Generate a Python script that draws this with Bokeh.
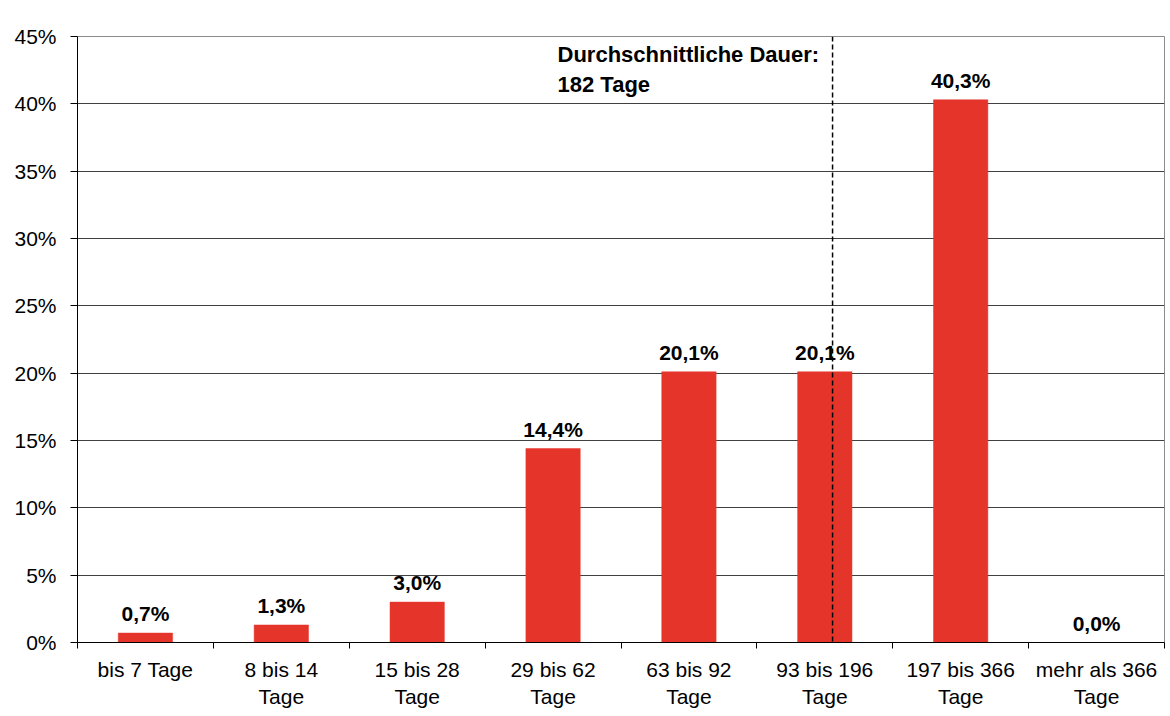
import numpy as np
from bokeh.plotting import figure
from bokeh.models import (ColumnDataSource, FixedTicker, LabelSet, Span, Label,
                          Range1d)
from bokeh.core.properties import value
from bokeh.embed import file_html
from bokeh.resources import INLINE

categories = ["bis 7 Tage", "8 bis 14\nTage", "15 bis 28\nTage", "29 bis 62\nTage",
              "63 bis 92\nTage", "93 bis 196\nTage", "197 bis 366\nTage",
              "mehr als 366\nTage"]
values = [0.7, 1.3, 3.0, 14.4, 20.1, 20.1, 40.3, 0.0]
value_labels = ["0,7%", "1,3%", "3,0%", "14,4%", "20,1%", "20,1%", "40,3%", "0,0%"]
y_ticks = [0, 5, 10, 15, 20, 25, 30, 35, 40, 45]
y_tick_labels = ["0%", "5%", "10%", "15%", "20%", "25%", "30%", "35%", "40%", "45%"]
avg_position = 5.557  # position of the mean duration (182 Tage) on the category axis
avg_text = "Durchschnittliche Dauer:\n182 Tage"

FONT = "Liberation Sans"
n = len(categories)
centers = list(np.arange(n) + 0.5)
bounds = list(np.arange(n + 1).astype(float))

src = ColumnDataSource(dict(x=centers, top=values, label=value_labels))

p = figure(width=1168, height=712, output_backend="svg", toolbar_location=None,
           x_range=Range1d(0, n), y_range=Range1d(0, 45),
           min_border_left=77, min_border_top=36, min_border_right=4,
           min_border_bottom=70)
p.background_fill_color = "white"
p.border_fill_color = "white"
p.outline_line_color = "#8c8c8c"
p.outline_line_width = 1

p.vbar(x="x", top="top", width=0.4, bottom=0, source=src,
       fill_color="#E5352A", line_color="#E5352A", line_width=0.5)

labels = LabelSet(x="x", y="top", text="label", source=src, text_align="center",
                  text_baseline="alphabetic", y_offset=12, text_font=value(FONT),
                  text_font_size="21px", text_font_style="bold", text_color="black")
p.add_layout(labels)

p.add_layout(Span(location=avg_position, dimension="height", line_color="black",
                  line_width=1.5, line_dash="5 3"))

p.add_layout(Label(x=3.533, y=44.6, text=avg_text, text_align="left",
                   text_baseline="top", text_font=FONT, text_font_size="22px",
                   text_font_style="bold", text_color="black", text_line_height=1.2))

# x axis
p.xaxis.ticker = FixedTicker(ticks=centers, minor_ticks=bounds)
p.xaxis.major_label_overrides = {c: lab for c, lab in zip(centers, categories)}
p.xaxis.major_tick_out = 0
p.xaxis.major_tick_in = 0
p.xaxis.minor_tick_out = 6
p.xaxis.minor_tick_in = 0
p.xaxis.minor_tick_line_color = "black"
p.xaxis.axis_line_color = "black"
p.xaxis.major_label_standoff = 9
p.xaxis.major_label_text_font = FONT
p.xaxis.major_label_text_font_size = "21px"
p.xaxis.major_label_text_color = "black"
p.xaxis.major_label_text_line_height = 1.2

# y axis
p.yaxis.ticker = FixedTicker(ticks=y_ticks, minor_ticks=[])
p.yaxis.major_label_overrides = {t: l for t, l in zip(y_ticks, y_tick_labels)}
p.yaxis.major_tick_out = 7
p.yaxis.major_tick_in = 0
p.yaxis.axis_line_color = "black"
p.yaxis.major_tick_line_color = "black"
p.yaxis.major_label_standoff = 14
p.yaxis.major_label_text_font = FONT
p.yaxis.major_label_text_font_size = "21px"
p.yaxis.major_label_text_color = "black"

p.xgrid.grid_line_color = None
p.ygrid.ticker = FixedTicker(ticks=y_ticks)
p.ygrid.grid_line_color = "#404040"
p.ygrid.grid_line_width = 1

open("out.html", "w").write(file_html(p, INLINE))
